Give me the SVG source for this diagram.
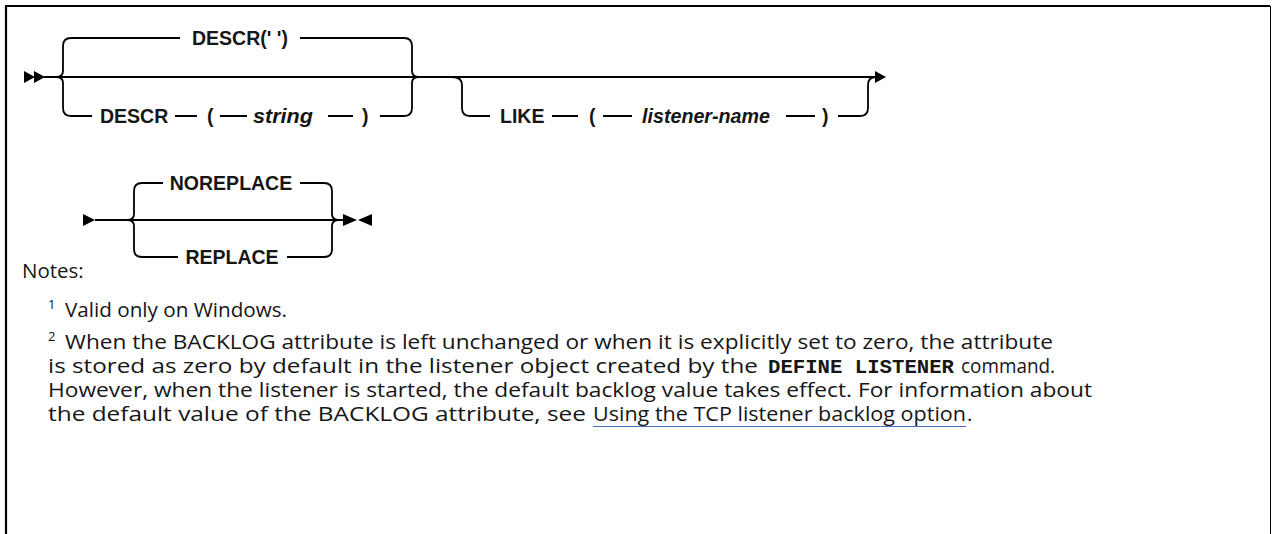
<svg xmlns="http://www.w3.org/2000/svg" width="1273" height="534" viewBox="0 0 1273 534">
<style>
.ln{fill:none;stroke:#000;stroke-width:1.8;stroke-linejoin:round}
.ah{fill:#000;stroke:none}
.lb{font-family:"Liberation Sans",Arial,sans-serif;font-size:19.5px;font-weight:bold;fill:#161616}
.it{font-style:italic}
.nt{font-family:"Open Sans","Liberation Sans",sans-serif;font-size:20.5px;fill:#161616}
.sup{font-family:"Open Sans","Liberation Sans",sans-serif;font-size:13px;fill:#161616}
.mono{font-family:"Liberation Mono","DejaVu Sans Mono",monospace;font-weight:bold;font-size:20.5px;fill:#161616}
</style>
<rect x="0" y="0" width="1273" height="534" fill="#fff"/>
<g id="frame">
<path d="M6,534 V6 H1270" fill="none" stroke="#000" stroke-width="2.2"/>
<path d="M1270.5,6 V534" fill="none" stroke="#000" stroke-width="1"/>
</g>
<g id="connectors">
<path class="ah" d="M24,71 L35,77 L24,83 Z M34,71 L45,77 L34,83 Z"/>
<path class="ln" d="M44,77 H876"/>
<path class="ah" d="M875,71 L886,77 L875,83 Z"/>
<path class="ln" d="M180,38 H71 Q63,38 63,46 V71 Q63,77 56,77 Q63,77 63,83 V108 Q63,116 71,116 H92"/>
<path class="ln" d="M300,38 H404 Q412,38 412,46 V71 Q412,77 419,77 Q412,77 412,83 V108 Q412,116 404,116 H380"/>
<path class="ln" d="M175,116 H197 M220,116 H247 M328,116 H353"/>
<path class="ln" d="M452,77 Q462,77 462,85 V108 Q462,116 470,116 H490"/>
<path class="ln" d="M552,116 H578 M603,116 H632 M786,116 H815"/>
<path class="ln" d="M838,116 H860 Q868,116 868,108 V85 Q868,77 876,77"/>
<path class="ah" d="M83,214 L95,220 L83,226 Z"/>
<path class="ln" d="M95,220 H343"/>
<path class="ln" d="M163,183 H142 Q134,183 134,191 V214 Q134,220 127,220 Q134,220 134,226 V249 Q134,257 142,257 H178"/>
<path class="ln" d="M300,183 H324 Q332,183 332,191 V214 Q332,220 339,220 Q332,220 332,226 V249 Q332,257 324,257 H287"/>
<path class="ah" d="M343,214 L357,220 L343,226 Z M372,214 L358,220 L372,226 Z"/>
</g>
<g id="node-descr-default"><text class="lb" x="240" y="45" text-anchor="middle">DESCR(' ')</text></g>
<g id="node-descr">
<text class="lb" x="100" y="123">DESCR</text>
<text class="lb" x="207" y="123">(</text>
<text class="lb it" x="253" y="123" textLength="60" lengthAdjust="spacingAndGlyphs">string</text>
<text class="lb" x="362" y="123">)</text>
</g>
<g id="node-like">
<text class="lb" x="500" y="123">LIKE</text>
<text class="lb" x="589" y="123">(</text>
<text class="lb it" x="642" y="123" textLength="128" lengthAdjust="spacingAndGlyphs">listener-name</text>
<text class="lb" x="822" y="123">)</text>
</g>
<g id="node-noreplace"><text class="lb" x="231" y="190" text-anchor="middle">NOREPLACE</text></g>
<g id="node-replace"><text class="lb" x="232" y="264" text-anchor="middle">REPLACE</text></g>
<g id="notes">
<text class="nt" x="22" y="278">Notes:</text>
<text class="sup" x="48" y="309">1</text>
<text class="nt" x="65" y="317" textLength="222" lengthAdjust="spacingAndGlyphs">Valid only on Windows.</text>
<text class="sup" x="48" y="341">2</text>
<text class="nt" x="65" y="349" textLength="988" lengthAdjust="spacingAndGlyphs">When the BACKLOG attribute is left unchanged or when it is explicitly set to zero, the attribute</text>
<text class="nt" x="48" y="373" textLength="710" lengthAdjust="spacingAndGlyphs">is stored as zero by default in the listener object created by the</text>
<text class="mono" x="768" y="373" textLength="186" lengthAdjust="spacingAndGlyphs">DEFINE LISTENER</text>
<text class="nt" x="961" y="373" textLength="94" lengthAdjust="spacingAndGlyphs">command.</text>
<text class="nt" x="48" y="397" textLength="1044" lengthAdjust="spacingAndGlyphs">However, when the listener is started, the default backlog value takes effect. For information about</text>
<text class="nt" x="48" y="421" textLength="538" lengthAdjust="spacingAndGlyphs">the default value of the BACKLOG attribute, see</text>
<text class="nt" x="593" y="421" textLength="373" lengthAdjust="spacingAndGlyphs">Using the TCP listener backlog option</text>
<text class="nt" x="967" y="421">.</text>
<line x1="593" y1="426.5" x2="966" y2="426.5" stroke="#4f6fc4" stroke-width="1"/>
</g>
</svg>
